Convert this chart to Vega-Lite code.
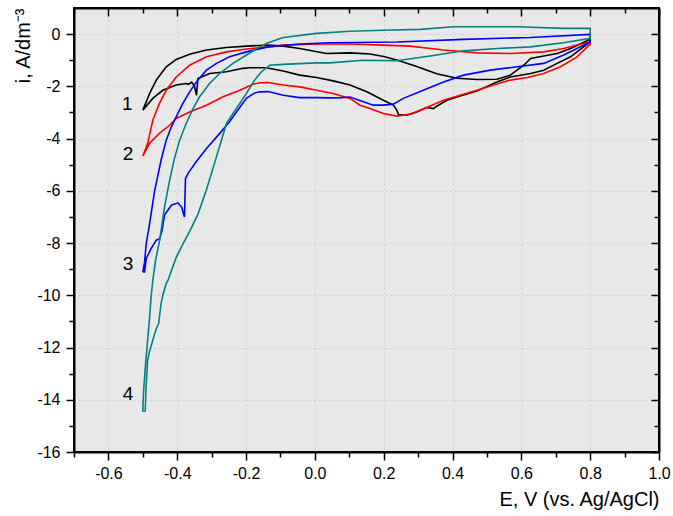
{
  "$schema": "https://vega.github.io/schema/vega-lite/v6.json",
  "width": 585,
  "height": 444,
  "autosize": "none",
  "padding": {"left": 74, "top": 8, "right": 14, "bottom": 64},
  "background": "white",
  "config": {
    "view": {"fill": "#e8e8e8", "stroke": "black", "strokeWidth": 2},
    "font": "Liberation Sans"
  },
  "datasets": {
    "cv": [
      {"s":"1","o":1,"E":-0.5,"i":-2.91},{"s":"1","o":2,"E":-0.48,"i":-2.27},{"s":"1","o":3,"E":-0.461,"i":-1.76},{"s":"1","o":4,"E":-0.432,"i":-1.25},{"s":"1","o":5,"E":-0.403,"i":-0.97},{"s":"1","o":6,"E":-0.364,"i":-0.77},{"s":"1","o":7,"E":-0.315,"i":-0.61},{"s":"1","o":8,"E":-0.257,"i":-0.51},{"s":"1","o":9,"E":-0.199,"i":-0.46},{"s":"1","o":10,"E":-0.136,"i":-0.42},{"s":"1","o":11,"E":-0.092,"i":-0.46},{"s":"1","o":12,"E":-0.044,"i":-0.55},{"s":"1","o":13,"E":0.034,"i":-0.74},{"s":"1","o":14,"E":0.102,"i":-0.72},{"s":"1","o":15,"E":0.16,"i":-0.76},{"s":"1","o":16,"E":0.2,"i":-0.86},{"s":"1","o":17,"E":0.238,"i":-0.99},{"s":"1","o":18,"E":0.296,"i":-1.24},{"s":"1","o":19,"E":0.354,"i":-1.52},{"s":"1","o":20,"E":0.413,"i":-1.69},{"s":"1","o":21,"E":0.471,"i":-1.74},{"s":"1","o":22,"E":0.529,"i":-1.73},{"s":"1","o":23,"E":0.568,"i":-1.57},{"s":"1","o":24,"E":0.607,"i":-1.19},{"s":"1","o":25,"E":0.627,"i":-0.93},{"s":"1","o":26,"E":0.665,"i":-0.84},{"s":"1","o":27,"E":0.704,"i":-0.74},{"s":"1","o":28,"E":0.743,"i":-0.55},{"s":"1","o":29,"E":0.8,"i":-0.2},
      {"s":"1","o":30,"E":0.8,"i":-0.3},{"s":"1","o":31,"E":0.743,"i":-0.87},{"s":"1","o":32,"E":0.704,"i":-1.12},{"s":"1","o":33,"E":0.665,"i":-1.38},{"s":"1","o":34,"E":0.627,"i":-1.51},{"s":"1","o":35,"E":0.568,"i":-1.64},{"s":"1","o":36,"E":0.529,"i":-1.83},{"s":"1","o":37,"E":0.471,"i":-2.18},{"s":"1","o":38,"E":0.422,"i":-2.37},{"s":"1","o":39,"E":0.384,"i":-2.53},{"s":"1","o":40,"E":0.354,"i":-2.76},{"s":"1","o":41,"E":0.345,"i":-2.85},{"s":"1","o":42,"E":0.325,"i":-2.81},{"s":"1","o":43,"E":0.296,"i":-2.98},{"s":"1","o":44,"E":0.267,"i":-3.1},{"s":"1","o":45,"E":0.243,"i":-3.08},{"s":"1","o":46,"E":0.238,"i":-2.91},{"s":"1","o":47,"E":0.228,"i":-2.72},{"s":"1","o":48,"E":0.199,"i":-2.53},{"s":"1","o":49,"E":0.151,"i":-2.21},{"s":"1","o":50,"E":0.102,"i":-1.95},{"s":"1","o":51,"E":0.053,"i":-1.79},{"s":"1","o":52,"E":0.005,"i":-1.66},{"s":"1","o":53,"E":-0.044,"i":-1.57},{"s":"1","o":54,"E":-0.092,"i":-1.41},{"s":"1","o":55,"E":-0.141,"i":-1.29},{"s":"1","o":56,"E":-0.189,"i":-1.29},{"s":"1","o":57,"E":-0.209,"i":-1.31},{"s":"1","o":58,"E":-0.257,"i":-1.44},{"s":"1","o":59,"E":-0.306,"i":-1.51},{"s":"1","o":60,"E":-0.34,"i":-1.7},{"s":"1","o":61,"E":-0.344,"i":-2.34},{"s":"1","o":62,"E":-0.35,"i":-1.99},{"s":"1","o":63,"E":-0.358,"i":-1.84},{"s":"1","o":64,"E":-0.367,"i":-1.92},{"s":"1","o":65,"E":-0.374,"i":-1.89},{"s":"1","o":66,"E":-0.403,"i":-1.95},{"s":"1","o":67,"E":-0.442,"i":-2.15},{"s":"1","o":68,"E":-0.471,"i":-2.46},{"s":"1","o":69,"E":-0.5,"i":-2.91},

      {"s":"2","o":1,"E":-0.5,"i":-4.67},{"s":"2","o":2,"E":-0.486,"i":-4.19},{"s":"2","o":3,"E":-0.471,"i":-3.3},{"s":"2","o":4,"E":-0.452,"i":-2.66},{"s":"2","o":5,"E":-0.432,"i":-2.15},{"s":"2","o":6,"E":-0.403,"i":-1.64},{"s":"2","o":7,"E":-0.364,"i":-1.19},{"s":"2","o":8,"E":-0.315,"i":-0.87},{"s":"2","o":9,"E":-0.257,"i":-0.68},{"s":"2","o":10,"E":-0.199,"i":-0.57},{"s":"2","o":11,"E":-0.136,"i":-0.49},{"s":"2","o":12,"E":-0.092,"i":-0.42},{"s":"2","o":13,"E":0.005,"i":-0.38},{"s":"2","o":14,"E":0.102,"i":-0.38},{"s":"2","o":15,"E":0.199,"i":-0.42},{"s":"2","o":16,"E":0.277,"i":-0.46},{"s":"2","o":17,"E":0.374,"i":-0.61},{"s":"2","o":18,"E":0.471,"i":-0.72},{"s":"2","o":19,"E":0.568,"i":-0.74},{"s":"2","o":20,"E":0.665,"i":-0.68},{"s":"2","o":21,"E":0.723,"i":-0.55},{"s":"2","o":22,"E":0.762,"i":-0.42},{"s":"2","o":23,"E":0.8,"i":-0.3},
      {"s":"2","o":24,"E":0.8,"i":-0.38},{"s":"2","o":25,"E":0.762,"i":-0.87},{"s":"2","o":26,"E":0.714,"i":-1.25},{"s":"2","o":27,"E":0.665,"i":-1.51},{"s":"2","o":28,"E":0.617,"i":-1.66},{"s":"2","o":29,"E":0.568,"i":-1.76},{"s":"2","o":30,"E":0.519,"i":-1.95},{"s":"2","o":31,"E":0.471,"i":-2.15},{"s":"2","o":32,"E":0.422,"i":-2.34},{"s":"2","o":33,"E":0.374,"i":-2.53},{"s":"2","o":34,"E":0.325,"i":-2.81},{"s":"2","o":35,"E":0.277,"i":-3.07},{"s":"2","o":36,"E":0.267,"i":-3.08},{"s":"2","o":37,"E":0.238,"i":-3.14},{"s":"2","o":38,"E":0.199,"i":-3.04},{"s":"2","o":39,"E":0.16,"i":-2.85},{"s":"2","o":40,"E":0.131,"i":-2.72},{"s":"2","o":41,"E":0.102,"i":-2.46},{"s":"2","o":42,"E":0.053,"i":-2.27},{"s":"2","o":43,"E":0.005,"i":-2.15},{"s":"2","o":44,"E":-0.044,"i":-2.02},{"s":"2","o":45,"E":-0.092,"i":-1.95},{"s":"2","o":46,"E":-0.136,"i":-1.85},{"s":"2","o":47,"E":-0.16,"i":-1.86},{"s":"2","o":48,"E":-0.18,"i":-1.92},{"s":"2","o":49,"E":-0.218,"i":-2.15},{"s":"2","o":50,"E":-0.267,"i":-2.4},{"s":"2","o":51,"E":-0.315,"i":-2.72},{"s":"2","o":52,"E":-0.364,"i":-2.98},{"s":"2","o":53,"E":-0.403,"i":-3.23},{"s":"2","o":54,"E":-0.422,"i":-3.49},{"s":"2","o":55,"E":-0.452,"i":-3.8},{"s":"2","o":56,"E":-0.481,"i":-4.19},{"s":"2","o":57,"E":-0.5,"i":-4.67},

      {"s":"3","o":1,"E":-0.5,"i":-9.11},{"s":"3","o":2,"E":-0.495,"i":-8.74},{"s":"3","o":3,"E":-0.49,"i":-8.0},{"s":"3","o":4,"E":-0.481,"i":-7.32},{"s":"3","o":5,"E":-0.466,"i":-6.02},{"s":"3","o":6,"E":-0.447,"i":-4.83},{"s":"3","o":7,"E":-0.432,"i":-4.06},{"s":"3","o":8,"E":-0.417,"i":-3.55},{"s":"3","o":9,"E":-0.403,"i":-3.17},{"s":"3","o":10,"E":-0.384,"i":-2.66},{"s":"3","o":11,"E":-0.364,"i":-2.21},{"s":"3","o":12,"E":-0.34,"i":-1.76},{"s":"3","o":13,"E":-0.315,"i":-1.38},{"s":"3","o":14,"E":-0.286,"i":-1.12},{"s":"3","o":15,"E":-0.248,"i":-0.87},{"s":"3","o":16,"E":-0.199,"i":-0.68},{"s":"3","o":17,"E":-0.136,"i":-0.49},{"s":"3","o":18,"E":-0.044,"i":-0.38},{"s":"3","o":19,"E":0.044,"i":-0.33},{"s":"3","o":20,"E":0.238,"i":-0.3},{"s":"3","o":21,"E":0.432,"i":-0.2},{"s":"3","o":22,"E":0.626,"i":-0.13},{"s":"3","o":23,"E":0.8,"i":-0.01},
      {"s":"3","o":24,"E":0.8,"i":-0.3},{"s":"3","o":25,"E":0.723,"i":-0.8},{"s":"3","o":26,"E":0.665,"i":-1.12},{"s":"3","o":27,"E":0.588,"i":-1.25},{"s":"3","o":28,"E":0.51,"i":-1.38},{"s":"3","o":29,"E":0.432,"i":-1.57},{"s":"3","o":30,"E":0.374,"i":-1.83},{"s":"3","o":31,"E":0.315,"i":-2.15},{"s":"3","o":32,"E":0.257,"i":-2.46},{"s":"3","o":33,"E":0.228,"i":-2.68},{"s":"3","o":34,"E":0.199,"i":-2.72},{"s":"3","o":35,"E":0.17,"i":-2.72},{"s":"3","o":36,"E":0.141,"i":-2.59},{"s":"3","o":37,"E":0.102,"i":-2.41},{"s":"3","o":38,"E":0.078,"i":-2.43},{"s":"3","o":39,"E":0.044,"i":-2.44},{"s":"3","o":40,"E":0.005,"i":-2.43},{"s":"3","o":41,"E":-0.044,"i":-2.43},{"s":"3","o":42,"E":-0.092,"i":-2.34},{"s":"3","o":43,"E":-0.136,"i":-2.2},{"s":"3","o":44,"E":-0.16,"i":-2.21},{"s":"3","o":45,"E":-0.175,"i":-2.25},{"s":"3","o":46,"E":-0.199,"i":-2.46},{"s":"3","o":47,"E":-0.228,"i":-2.98},{"s":"3","o":48,"E":-0.248,"i":-3.36},{"s":"3","o":49,"E":-0.277,"i":-3.81},{"s":"3","o":50,"E":-0.315,"i":-4.38},{"s":"3","o":51,"E":-0.345,"i":-4.89},{"s":"3","o":52,"E":-0.369,"i":-5.34},{"s":"3","o":53,"E":-0.376,"i":-5.53},{"s":"3","o":54,"E":-0.379,"i":-7.0},{"s":"3","o":55,"E":-0.387,"i":-6.63},{"s":"3","o":56,"E":-0.398,"i":-6.46},{"s":"3","o":57,"E":-0.417,"i":-6.55},{"s":"3","o":58,"E":-0.437,"i":-6.93},{"s":"3","o":59,"E":-0.444,"i":-7.51},{"s":"3","o":60,"E":-0.451,"i":-7.83},{"s":"3","o":61,"E":-0.461,"i":-7.89},{"s":"3","o":62,"E":-0.476,"i":-8.21},{"s":"3","o":63,"E":-0.49,"i":-8.59},{"s":"3","o":64,"E":-0.495,"i":-9.11},{"s":"3","o":65,"E":-0.5,"i":-9.11},

      {"s":"4","o":1,"E":-0.5,"i":-14.47},{"s":"4","o":2,"E":-0.499,"i":-14.02},{"s":"4","o":3,"E":-0.497,"i":-13.51},{"s":"4","o":4,"E":-0.492,"i":-12.62},{"s":"4","o":5,"E":-0.486,"i":-11.72},{"s":"4","o":6,"E":-0.481,"i":-10.96},{"s":"4","o":7,"E":-0.476,"i":-10.07},{"s":"4","o":8,"E":-0.471,"i":-9.43},{"s":"4","o":9,"E":-0.463,"i":-8.66},{"s":"4","o":10,"E":-0.451,"i":-7.89},{"s":"4","o":11,"E":-0.437,"i":-6.62},{"s":"4","o":12,"E":-0.422,"i":-5.59},{"s":"4","o":13,"E":-0.408,"i":-4.76},{"s":"4","o":14,"E":-0.393,"i":-4.06},{"s":"4","o":15,"E":-0.374,"i":-3.42},{"s":"4","o":16,"E":-0.354,"i":-2.85},{"s":"4","o":17,"E":-0.335,"i":-2.4},{"s":"4","o":18,"E":-0.306,"i":-1.89},{"s":"4","o":19,"E":-0.277,"i":-1.51},{"s":"4","o":20,"E":-0.238,"i":-1.12},{"s":"4","o":21,"E":-0.199,"i":-0.8},{"s":"4","o":22,"E":-0.16,"i":-0.49},{"s":"4","o":23,"E":-0.136,"i":-0.33},{"s":"4","o":24,"E":-0.092,"i":-0.13},{"s":"4","o":25,"E":0.005,"i":0.03},{"s":"4","o":26,"E":0.102,"i":0.11},{"s":"4","o":27,"E":0.199,"i":0.15},{"s":"4","o":28,"E":0.306,"i":0.18},{"s":"4","o":29,"E":0.403,"i":0.28},{"s":"4","o":30,"E":0.588,"i":0.28},{"s":"4","o":31,"E":0.723,"i":0.22},{"s":"4","o":32,"E":0.8,"i":0.22},
      {"s":"4","o":33,"E":0.8,"i":-0.16},{"s":"4","o":34,"E":0.723,"i":-0.33},{"s":"4","o":35,"E":0.626,"i":-0.49},{"s":"4","o":36,"E":0.529,"i":-0.55},{"s":"4","o":37,"E":0.432,"i":-0.64},{"s":"4","o":38,"E":0.335,"i":-0.84},{"s":"4","o":39,"E":0.238,"i":-1.02},{"s":"4","o":40,"E":0.141,"i":-1.0},{"s":"4","o":41,"E":0.044,"i":-1.1},{"s":"4","o":42,"E":0.005,"i":-1.1},{"s":"4","o":43,"E":-0.092,"i":-1.16},{"s":"4","o":44,"E":-0.131,"i":-1.19},{"s":"4","o":45,"E":-0.155,"i":-1.44},{"s":"4","o":46,"E":-0.175,"i":-1.76},{"s":"4","o":47,"E":-0.199,"i":-2.27},{"s":"4","o":48,"E":-0.228,"i":-2.85},{"s":"4","o":49,"E":-0.257,"i":-3.42},{"s":"4","o":50,"E":-0.27,"i":-4.0},{"s":"4","o":51,"E":-0.293,"i":-5.0},{"s":"4","o":52,"E":-0.316,"i":-6.0},{"s":"4","o":53,"E":-0.34,"i":-6.9},{"s":"4","o":54,"E":-0.364,"i":-7.55},{"s":"4","o":55,"E":-0.384,"i":-8.05},{"s":"4","o":56,"E":-0.403,"i":-8.55},{"s":"4","o":57,"E":-0.427,"i":-9.43},{"s":"4","o":58,"E":-0.432,"i":-9.55},{"s":"4","o":59,"E":-0.442,"i":-10.0},{"s":"4","o":60,"E":-0.447,"i":-10.32},{"s":"4","o":61,"E":-0.454,"i":-11.08},{"s":"4","o":62,"E":-0.461,"i":-11.28},{"s":"4","o":63,"E":-0.471,"i":-11.72},{"s":"4","o":64,"E":-0.481,"i":-12.17},{"s":"4","o":65,"E":-0.486,"i":-12.49},{"s":"4","o":66,"E":-0.49,"i":-13.38},{"s":"4","o":67,"E":-0.493,"i":-14.41},{"s":"4","o":68,"E":-0.495,"i":-14.47}
    ],
    "lab": [
      {"t":"1","E":-0.545,"i":-2.68},
      {"t":"2","E":-0.543,"i":-4.59},
      {"t":"3","E":-0.543,"i":-8.79},
      {"t":"4","E":-0.543,"i":-13.78}
    ]
  },
  "layer": [
    {
      "data": {"name": "cv"},
      "mark": {"type": "line", "strokeWidth": 1.6},
      "encoding": {
        "x": {
          "field": "E", "type": "quantitative",
          "scale": {"domain": [-0.7, 1.0], "nice": false, "zero": false},
          "axis": {
            "orient": "bottom",
            "values": [-0.7,-0.6,-0.5,-0.4,-0.3,-0.2,-0.1,0,0.1,0.2,0.3,0.4,0.5,0.6,0.7,0.8,0.9,1.0],
            "title": "E, V (vs. Ag/AgCl)",
            "titleAnchor": "end",
            "titleFontSize": 20,
            "titleFontWeight": "normal",
            "titleColor": "black",
            "titlePadding": 8,
            "labelFontSize": 16,
            "labelColor": "black",
            "labelPadding": 5,
            "labelFlush": false,
            "labelOverlap": false,
            "labelExpr": "abs(round(datum.value*10)) % 2 == 0 ? replace(format(datum.value, '.1f'), '\u2212', '-') : ''",
            "domainColor": "black",
            "domainWidth": 2,
            "tickColor": "black",
            "tickWidth": 1.5,
            "tickSize": {"condition": {"test": "abs(round(datum.value*10)) % 2 == 0", "value": 8}, "value": 5},
            "grid": true,
            "gridColor": "#bcbcbc",
            "gridDash": [1, 3],
            "gridWidth": 1,
            "gridOpacity": {"condition": {"test": "abs(round(datum.value*10)) % 2 == 0 && datum.value < 0.95", "value": 1}, "value": 0}
          }
        },
        "y": {
          "field": "i", "type": "quantitative",
          "scale": {"domain": [-16, 1], "nice": false, "zero": false},
          "axis": {
            "orient": "left",
            "values": [-16,-15,-14,-13,-12,-11,-10,-9,-8,-7,-6,-5,-4,-3,-2,-1,0],
            "title": "i, A/dm\u207b\u00b3",
            "titleAnchor": "end",
            "titleFontSize": 20,
            "titleFontWeight": "normal",
            "titleColor": "black",
            "titlePadding": 3,
            "labelFontSize": 16,
            "labelColor": "black",
            "labelPadding": 6,
            "labelFlush": false,
            "labelOverlap": false,
            "labelExpr": "abs(round(datum.value)) % 2 == 0 ? replace(format(datum.value, 'd'), '\u2212', '-') : ''",
            "domainColor": "black",
            "domainWidth": 2,
            "tickColor": "black",
            "tickWidth": 1.5,
            "tickSize": {"condition": {"test": "abs(round(datum.value)) % 2 == 0", "value": 8}, "value": 5},
            "grid": true,
            "gridColor": "#bcbcbc",
            "gridDash": [1, 3],
            "gridWidth": 1,
            "gridOpacity": {"condition": {"test": "abs(round(datum.value)) % 2 == 0 && datum.value > -15.5", "value": 1}, "value": 0}
          }
        },
        "color": {
          "field": "s", "type": "nominal",
          "scale": {"domain": ["1","2","3","4"], "range": ["#000000","#ff0000","#0000ff","#008080"]},
          "legend": null
        },
        "order": {"field": "o", "type": "quantitative"}
      }
    },
    {
      "data": {"name": "lab"},
      "mark": {"type": "text", "fontSize": 19, "font": "Liberation Sans", "color": "black", "align": "center", "baseline": "middle"},
      "encoding": {
        "x": {
          "field": "E", "type": "quantitative",
          "axis": {
            "orient": "top",
            "values": [-0.7,-0.6,-0.5,-0.4,-0.3,-0.2,-0.1,0,0.1,0.2,0.3,0.4,0.5,0.6,0.7,0.8,0.9,1.0],
            "title": null,
            "labels": false,
            "grid": false,
            "domainColor": "black",
            "domainWidth": 2,
            "tickColor": "black",
            "tickWidth": 1.5,
            "tickSize": {"condition": {"test": "abs(round(datum.value*10)) % 2 == 0", "value": -8}, "value": -5}
          }
        },
        "y": {
          "field": "i", "type": "quantitative",
          "axis": {
            "orient": "right",
            "values": [-16,-15,-14,-13,-12,-11,-10,-9,-8,-7,-6,-5,-4,-3,-2,-1,0],
            "title": null,
            "labels": false,
            "grid": false,
            "domainColor": "black",
            "domainWidth": 2,
            "tickColor": "black",
            "tickWidth": 1.5,
            "tickSize": {"condition": {"test": "abs(round(datum.value)) % 2 == 0", "value": -8}, "value": -5}
          }
        },
        "text": {"field": "t", "type": "nominal"}
      }
    }
  ],
  "resolve": {"axis": {"x": "independent", "y": "independent"}}
}
